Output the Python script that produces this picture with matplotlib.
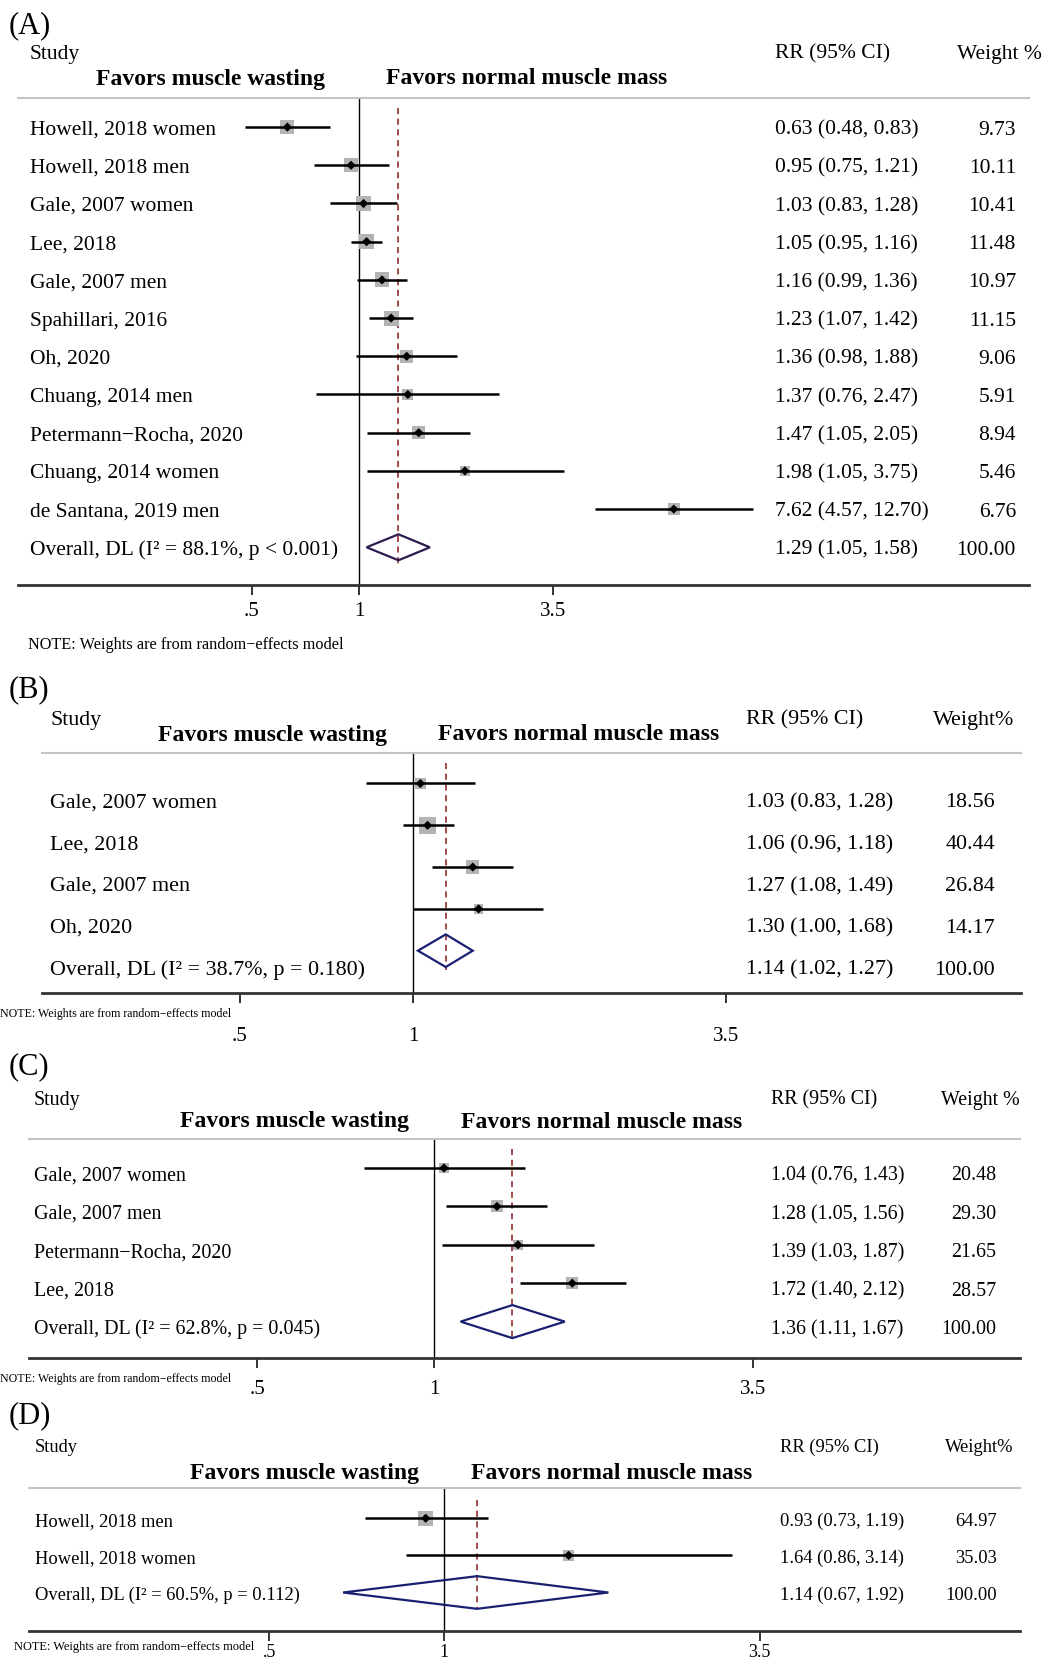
import numpy as np
import matplotlib.pyplot as plt
from matplotlib import transforms
from matplotlib.ticker import NullLocator

plt.rcParams['font.family'] = ['Liberation Serif', 'DejaVu Serif']

W, H = 1045, 1660

# (A) all studies
a_studies = ["Howell, 2018 women", "Howell, 2018 men", "Gale, 2007 women", "Lee, 2018",
             "Gale, 2007 men", "Spahillari, 2016", "Oh, 2020", "Chuang, 2014 men",
             "Petermann\u2212Rocha, 2020", "Chuang, 2014 women", "de Santana, 2019 men"]
a_rr = [0.63, 0.95, 1.03, 1.05, 1.16, 1.23, 1.36, 1.37, 1.47, 1.98, 7.62]
a_lo = [0.48, 0.75, 0.83, 0.95, 0.99, 1.07, 0.98, 0.76, 1.05, 1.05, 4.57]
a_hi = [0.83, 1.21, 1.28, 1.16, 1.36, 1.42, 1.88, 2.47, 2.05, 3.75, 12.70]
a_wt = [9.73, 10.11, 10.41, 11.48, 10.97, 11.15, 9.06, 5.91, 8.94, 5.46, 6.76]
a_overall = [1.29, 1.05, 1.58]
a_overall_label = "Overall, DL (I\u00b2 = 88.1%, p < 0.001)"

# (B)
b_studies = ["Gale, 2007 women", "Lee, 2018", "Gale, 2007 men", "Oh, 2020"]
b_rr = [1.03, 1.06, 1.27, 1.30]
b_lo = [0.83, 0.96, 1.08, 1.00]
b_hi = [1.28, 1.18, 1.49, 1.68]
b_wt = [18.56, 40.44, 26.84, 14.17]
b_overall = [1.14, 1.02, 1.27]
b_overall_label = "Overall, DL (I\u00b2 = 38.7%, p = 0.180)"

# (C)
c_studies = ["Gale, 2007 women", "Gale, 2007 men", "Petermann\u2212Rocha, 2020", "Lee, 2018"]
c_rr = [1.04, 1.28, 1.39, 1.72]
c_lo = [0.76, 1.05, 1.03, 1.40]
c_hi = [1.43, 1.56, 1.87, 2.12]
c_wt = [20.48, 29.30, 21.65, 28.57]
c_overall = [1.36, 1.11, 1.67]
c_overall_label = "Overall, DL (I\u00b2 = 62.8%, p = 0.045)"

# (D)
d_studies = ["Howell, 2018 men", "Howell, 2018 women"]
d_rr = [0.93, 1.64]
d_lo = [0.73, 0.86]
d_hi = [1.19, 3.14]
d_wt = [64.97, 35.03]
d_overall = [1.14, 0.67, 1.92]
d_overall_label = "Overall, DL (I\u00b2 = 60.5%, p = 0.112)"

tick_vals = [0.5, 1, 3.5]
tick_labels = [".5", "1", "3.5"]
note = "NOTE: Weights are from random\u2212effects model"

fig = plt.figure(figsize=(W / 100, H / 100), dpi=100)

DROP = 3  # text sits a few px lower than bbox centre


def fx(x):
    return x / W


def fy(y):
    return 1 - (y + DROP) / H


def panel(tag, studies, rr, lo, hi, wt, ov, ov_label, wt_head, lay):
    L, R, top, bot = lay['box']
    ax = fig.add_axes([fx(L), 1 - bot / H, (R - L) / W, (bot - top) / H])
    ax.set_xscale('log')
    P, s = lay['one'], lay['scale']
    ax.set_xlim(np.exp((L - P) / s), np.exp((R - P) / s))
    y0, dy = lay['row0'], lay['dy']
    ax.set_ylim((bot - y0) / dy, (top - y0) / dy)
    n = len(studies)
    y = np.arange(n)

    ax.axvline(1, color='black', lw=1.0, zorder=1)
    ax.vlines(ov[0], -0.5, n + 0.45, colors='#8b1a1a', linestyles=(0, (4, 3)), lw=1.1, zorder=1)
    sizes = (lay['k'] * np.sqrt(wt) / 1.389) ** 2
    ax.scatter(rr, y, s=sizes, marker='s', c='#b4b4b4', edgecolors='none', zorder=2)
    ax.hlines(y, lo, hi, colors='black', lw=1.8, zorder=3)
    ax.scatter(rr, y, s=22, marker='D', c='black', edgecolors='none', zorder=4)
    h = lay['h']
    ax.fill([ov[1], ov[0], ov[2], ov[0]], [n, n - h, n, n + h], fill=False,
            edgecolor=lay['dcol'], lw=1.6, zorder=4)

    for sp in ['left', 'right']:
        ax.spines[sp].set_visible(False)
    ax.spines['top'].set_color('#c4c4c4')
    ax.spines['top'].set_linewidth(1.5)
    ax.spines['bottom'].set_color('#333333')
    ax.spines['bottom'].set_linewidth(2)
    ax.set_yticks([])
    ax.set_xticks(tick_vals)
    ax.set_xticklabels(tick_labels)
    ax.xaxis.set_minor_locator(NullLocator())
    ax.tick_params(axis='x', length=7, width=1.4, color='#333333', pad=lay['pad'],
                   labelsize=lay['tfs'])
    ax.patch.set_alpha(0)

    fs = lay['fs']
    tr = transforms.blended_transform_factory(fig.transFigure, ax.transData)
    tr = tr + transforms.ScaledTranslation(0, -DROP / 100, fig.dpi_scale_trans)
    toff = lay['toff']
    names = studies + [ov_label]
    rr_txt = ["%.2f (%.2f, %.2f)" % v for v in zip(rr, lo, hi)] + ["%.2f (%.2f, %.2f)" % tuple(ov)]
    wt_txt = ["%.2f" % w for w in wt] + ["100.00"]
    for i in range(n + 1):
        ax.text(fx(lay['name_x']), i + toff, names[i], transform=tr, va='center', ha='left', fontsize=fs)
        ax.text(fx(lay['rr_x']), i + toff, rr_txt[i], transform=tr, va='center', ha='left', fontsize=fs)
        ax.text(fx(lay['wt_xr']), i + toff, wt_txt[i], transform=tr, va='center', ha='right', fontsize=fs)

    fig.text(fx(9), fy(lay['tag_y']), tag, fontsize=22, va='center', ha='left')
    fig.text(fx(lay['name_x']), fy(lay['hdr_y']), "Study", fontsize=fs, va='center')
    fig.text(fx(lay['rr_x']), fy(lay['hdr_y']), "RR (95% CI)", fontsize=fs, va='center')
    fig.text(fx(lay['wth_x']), fy(lay['hdr_y']), wt_head, fontsize=fs, va='center')
    fig.text(fx(lay['bold_cx'][0]), fy(lay['bold_y']), "Favors muscle wasting",
             fontsize=17, fontweight='bold', va='center', ha='center')
    fig.text(fx(lay['bold_cx'][1]), fy(lay['bold_y']), "Favors normal muscle mass",
             fontsize=17, fontweight='bold', va='center', ha='center')
    fig.text(fx(lay['note'][0]), fy(lay['note'][1]), note, fontsize=lay['note'][2], va='center')


lay_a = dict(box=(18, 1029, 98, 585), one=359, scale=155, row0=127.1, dy=38.2, toff=0, h=0.34,
             k=4.5, fs=15.5, tfs=15, name_x=30, rr_x=775, wt_xr=1016, wth_x=957, hdr_y=51,
             bold_y=76, bold_cx=(210, 527), tag_y=23, note=(28, 642, 11.7), pad=5, dcol='#2d1b4e')
lay_b = dict(box=(42, 1021, 753, 993), one=413, scale=250, row0=783.5, dy=41.8, toff=0.39, h=0.39,
             k=2.6, fs=15.8, tfs=15, name_x=50, rr_x=746, wt_xr=995, wth_x=933, hdr_y=717,
             bold_y=732, bold_cx=(272, 579), tag_y=687, note=(0, 1011, 8.6), pad=17.5, dcol='#1a2070')
lay_c = dict(box=(29, 1020, 1139, 1358), one=434, scale=255, row0=1168, dy=38.4, toff=0.13, h=0.43,
             k=2.2, fs=14.4, tfs=15, name_x=34, rr_x=771, wt_xr=996, wth_x=941, hdr_y=1097,
             bold_y=1119, bold_cx=(294, 602), tag_y=1064, note=(0, 1376, 8.6), pad=9, dcol='#1a2070')
lay_d = dict(box=(29, 1020, 1488, 1631), one=444, scale=252, row0=1518.3, dy=37.1, toff=0, h=0.44,
             k=1.8, fs=13.3, tfs=13, name_x=35, rr_x=780, wt_xr=997, wth_x=945, hdr_y=1444,
             bold_y=1470, bold_cx=(304, 612), tag_y=1413, note=(14, 1644, 8.9), pad=2, dcol='#1a2070')

panel("(A)", a_studies, a_rr, a_lo, a_hi, a_wt, a_overall, a_overall_label, "Weight %", lay_a)
panel("(B)", b_studies, b_rr, b_lo, b_hi, b_wt, b_overall, b_overall_label, "Weight%", lay_b)
panel("(C)", c_studies, c_rr, c_lo, c_hi, c_wt, c_overall, c_overall_label, "Weight %", lay_c)
panel("(D)", d_studies, d_rr, d_lo, d_hi, d_wt, d_overall, d_overall_label, "Weight%", lay_d)

fig.savefig("out.png", dpi=100)
